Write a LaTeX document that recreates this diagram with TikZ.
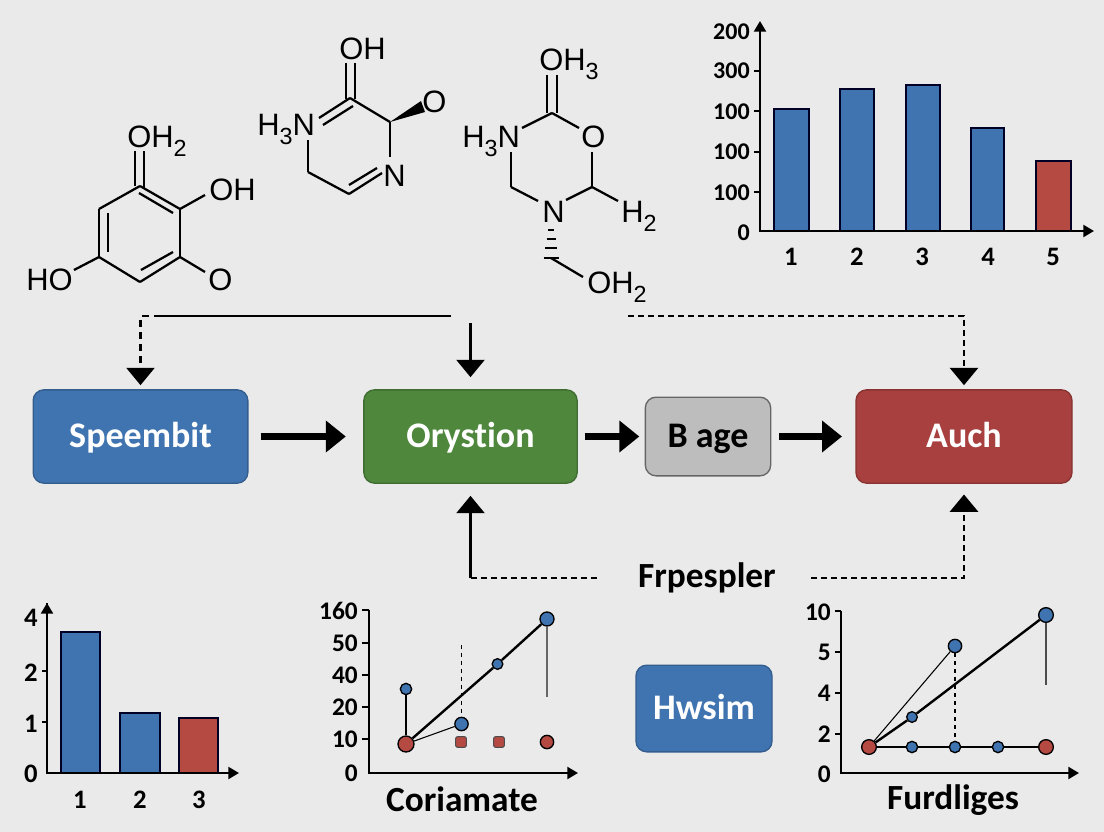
\documentclass[tikz,border=0pt]{standalone}
\usepackage{fontspec}
\setmainfont{Carlito}[Ligatures=NoCommon]
\newfontfamily\chemfont{Liberation Sans}
\usetikzlibrary{arrows.meta}
\definecolor{pagebg}{HTML}{EAEAEA}
\definecolor{boxblue}{HTML}{4074B0}
\definecolor{boxgreen}{HTML}{4F873D}
\definecolor{boxred}{HTML}{A8403F}
\definecolor{boxgray}{HTML}{BDBDBD}
\definecolor{barred}{HTML}{B54A42}
\newcommand{\chemsub}[1]{\raisebox{-0.3em}{\fontsize{17.5}{17.5}\selectfont #1}}

\begin{document}
\begin{tikzpicture}[x=0.75pt, y=-0.75pt, >={Triangle[length=8pt,width=9pt]},
  atom/.style={anchor=base west, inner sep=0pt, font=\chemfont\fontsize{23.2}{23.2}\selectfont},
  bond/.style={line width=1.7pt},
  flowbox/.style={rectangle, rounded corners=8pt, line width=1pt, font=\bfseries\fontsize{27}{31}\selectfont, text=white, text height=21pt, text depth=5pt},
  bigarrow/.style={line width=5.2pt, -{Triangle[length=15pt,width=23pt]}},
  link/.style={line width=1.8pt, -{Triangle[length=13pt,width=21pt]}},
  dashlink/.style={line width=2.2pt, dash pattern=on 4.5pt off 3pt},
  tick/.style={font=\bfseries\fontsize{18}{21}\selectfont, inner sep=0pt},
  chartname/.style={font=\bfseries\fontsize{26.5}{30}\selectfont, inner sep=0pt},
  axis/.style={line width=1.6pt},
  bar/.style={draw=black!85!blue, line width=1.5pt, fill=boxblue},
  dot/.style={circle, draw=black, line width=1pt, inner sep=0pt, fill=boxblue, minimum size=#1},
  dot/.default=9pt,
  square/.style={rectangle, rounded corners=1.5pt, draw=black!70, line width=0.8pt, inner sep=0pt, fill=barred, minimum size=#1}]

\useasboundingbox (0,0) rectangle (1104,832);
\fill[pagebg] (0,0) rectangle (1104,832);

% Molecule 1
\foreach \n/\x/\y in {a1/140/186, a2/180/209, a3/180/257, a4/140/282, a5/99/257, a6/99/209,
  a7/205/195, a8/205/272, a9/74/270, a10/135/151, a11/135/186, a12/144/151, a13/144/189,
  a14/139/193, a15/173/213, a16/108/213, a17/108/252, a18/141/270, a19/173/252}
  \coordinate (\n) at (\x,\y);
\foreach \i/\j in {a1/a2, a2/a3, a3/a4, a4/a5, a5/a6, a6/a1, a2/a7, a3/a8, a5/a9,
  a10/a11, a12/a13, a14/a15, a16/a17, a18/a19}
  \draw[bond] (\i) -- (\j);
\node[atom] (oha) at (127,147) {OH\chemsub{2}};
\node[atom] (ohb) at (209,200) {OH};
\node[atom] (hoa) at (26,290) {HO};
\node[atom] (oa) at (208,290) {O};

% Molecule 2
\foreach \n/\x/\y in {b1/350/98, b2/390/122, b3/390/157, b4/349/194, b5/308/172, b6/308/140,
  b7/346/63, b8/346/99, b9/355/63, b10/355/99, b11/319/118, b12/323/125, b13/353/106,
  b14/382/173, b15/349/185, b16/377/168}
  \coordinate (\n) at (\x,\y);
\foreach \i/\j in {b1/b2, b2/b3, b4/b5, b5/b6, b7/b8, b9/b10, b11/b1, b12/b13, b4/b14, b15/b16}
  \draw[bond] (\i) -- (\j);
\coordinate (w1) at (421,101);
\coordinate (w2) at (425,112);
\fill (b2) -- (w1) -- (w2) -- cycle;
\node[atom] (ohc) at (339,59) {OH};
\node[atom] (hna) at (257,135) {H\chemsub{3}N};
\node[atom] (ob) at (422,112) {O};
\node[atom] (na) at (383,186) {N};

% Molecule 3
\foreach \n/\x/\y in {c1/552/113, c2/579/128, c3/592/152, c4/592/187, c5/566/200, c6/618/201,
  c7/522/128, c8/511/152, c9/511/187, c10/538/201, c11/551/258, c12/583/277,
  c13/547/75, c14/547/113, c15/557/75, c16/557/113}
  \coordinate (\n) at (\x,\y);
\foreach \i/\j in {c1/c2, c3/c4, c4/c5, c4/c6, c1/c7, c8/c9, c9/c10, c11/c12, c13/c14, c15/c16}
  \draw[bond] (\i) -- (\j);
\foreach \y/\w in {230/3, 239/4.5, 248/6, 258/7.5}
  \draw[line width=1.8pt] (551-\w,\y) -- (551+\w,\y);
\node[atom] (ohd) at (539,70) {OH\chemsub{3}};
\node[atom] (hnb) at (462,147) {H\chemsub{3}N};
\node[atom] (oc) at (581,147) {O};
\node[atom] (nb) at (542,222) {N};
\node[atom] (hb) at (621,222) {H\chemsub{2}};
\node[atom] (ohe) at (587,293) {OH\chemsub{2}};

% Top bar chart
\coordinate (ttop) at (760,21);
\coordinate (tright) at (1094,231);
\foreach \a/\b/\h in {774/809/109, 840/874/89, 906/940/85, 971/1004/128}
  \draw[bar] (\a,231) rectangle (\b,\h);
\draw[bar, fill=barred] (1036,231) rectangle (1071,161);
\draw[axis, <->] (ttop) |- (tright);
\foreach \y in {71,111,152,192}
  \draw[axis] (754,\y) -- (760,\y);
\foreach \i/\y/\t in {a/32/200, b/71/300, c/112/100, d/152/100, e/193/100, f/233/0}
  \node[tick, anchor=east] (ty\i) at (750,\y) {\t};
\foreach \x/\t in {791/1, 857/2, 922/3, 988/4, 1053/5}
  \node[tick, font=\bfseries\fontsize{20}{24}\selectfont] (tx\t) at (\x,257) {\t};

% Flow boxes
\node[flowbox, fill=boxblue, draw=boxblue!80!black, minimum width=161pt, minimum height=70pt] (spe) at (140.5,436.5) {Speembit};
\node[flowbox, fill=boxgreen, draw=boxgreen!80!black, minimum width=160pt, minimum height=70pt] (ory) at (470.5,436.5) {Orystion};
\node[flowbox, fill=boxgray, draw=black!60, text=black, minimum width=94pt, minimum height=59pt] (age) at (708,436.5) {B age};
\node[flowbox, fill=boxred, draw=boxred!80!black, minimum width=162pt, minimum height=70pt] (auc) at (964,436.5) {Auch};
\node[flowbox, fill=boxblue, draw=boxblue!80!black, minimum width=102pt, minimum height=65pt] (hws) at (704,708.5) {Hwsim};
\node[chartname] (frp) at (707,578) {Frpespler};

% Flow arrows
\draw[bigarrow, shorten <=9pt, shorten >=13pt] (spe) -- (ory);
\draw[bigarrow, shorten <=5pt, shorten >=4pt] (ory) -- (age);
\draw[bigarrow, shorten <=6pt, shorten >=10pt] (age) -- (auc);

% Feedback links
\coordinate (la) at (160.5,316);
\coordinate (lb) at (451,316);
\coordinate (lc) at (470.5,323);
\coordinate (ld) at (628,316);
\coordinate (le) at (470.5,578);
\coordinate (lf) at (597,578);
\coordinate (lg) at (811,578);
\draw[line width=1.8pt] (la) -- (lb);
\draw[link, dash pattern=on 5pt off 4pt, shorten >=3pt] (la) -| (spe);
\draw[link, shorten >=9pt] (lc) -- (ory);
\draw[link, dashlink, shorten >=3pt] (ld) -| (auc);
\draw[dashlink] (le) -- (lf);
\draw[link, shorten >=9pt] (le) -- (ory);
\draw[link, dashlink, shorten >=8pt] (lg) -| (auc);

% Bottom left bar chart
\coordinate (ltop) at (47,603);
\coordinate (lright) at (239,773);
\foreach \a/\b/\h in {61/100/632, 120/160/713}
  \draw[bar] (\a,773) rectangle (\b,\h);
\draw[bar, fill=barred] (179,773) rectangle (218,718);
\draw[axis, ->] (ltop) -- (47,773) -- (lright);
\draw[axis, <-] (ltop) -- (47,620);
\foreach \y in {671,722}
  \draw[axis] (42,\y) -- (47,\y);
\foreach \y/\t in {618/4, 673/2, 724/1, 774/0}
  \node[tick, font=\bfseries\fontsize{20}{24}\selectfont] (ly\t) at (31,\y) {\t};
\foreach \x/\t in {80/1, 140/2, 199/3}
  \node[tick, font=\bfseries\fontsize{20}{24}\selectfont] (lx\t) at (\x,800) {\t};

% Middle line chart
\coordinate (mtop) at (369,610);
\coordinate (mright) at (578,773);
\draw[axis, ->] (mtop) |- (mright);
\foreach \y in {610,643,675,707,739}
  \draw[axis] (362,\y) -- (369,\y);
\foreach \i/\y/\t in {a/611/160, b/643/50, c/675/40, d/707/20, e/739/10, f/773/0}
  \node[tick, anchor=east, font=\bfseries\fontsize{19}{23}\selectfont] (my\i) at (358,\y) {\t};
\node[chartname] (mname) at (462,799) {Coriamate};
\node[dot=12pt, fill=barred] (mp0) at (406,744) {};
\node[dot=10.5pt] (mp1) at (547,619) {};
\node[dot=8pt] (mp2) at (497.5,664) {};
\node[dot=8.5pt] (mp3) at (406,689) {};
\node[dot=10pt] (mp4) at (461.5,724) {};
\node[square=8pt] (mq1) at (461,742) {};
\node[square=8pt] (mq2) at (499,742) {};
\node[dot=10pt, fill=barred] (mq3) at (547,742) {};
\coordinate (mc1) at (461.5,645);
\coordinate (mc2) at (547,697);
\draw[line width=1.8pt] (mp0) -- (mp2);
\draw[line width=1.8pt] (mp2) -- (mp1);
\draw[line width=0.8pt] (mp3) -- (mp0);
\draw[line width=0.8pt] (mp0) -- (mp4);
\draw[line width=0.8pt, dashed] (mc1) -- (mp4);
\draw[line width=0.8pt, black!60] (mp1) -- (mc2);

% Bottom right line chart
\coordinate (rtop) at (841,611);
\coordinate (rright) at (1079,773);
\draw[axis, ->] (rtop) |- (rright);
\foreach \y in {611,652,693,734}
  \draw[axis] (835,\y) -- (841,\y);
\foreach \i/\y/\t in {a/612/10, b/652/5, c/693/4, d/734/2, e/774/0}
  \node[tick, anchor=east, font=\bfseries\fontsize{19}{23}\selectfont] (ry\i) at (831,\y) {\t};
\node[chartname] (rname) at (953,800) {Furdliges};
\node[dot=11pt, fill=barred] (rp0) at (869,747) {};
\node[dot=8pt] (rp1) at (912,717) {};
\node[dot=10pt] (rp2) at (955,646) {};
\node[dot=11pt] (rp3) at (1046,615) {};
\node[dot=8.5pt] (rq1) at (912,747) {};
\node[dot=8.5pt] (rq2) at (955,747) {};
\node[dot=8.5pt] (rq3) at (998,747) {};
\node[dot=11pt, fill=barred] (rq4) at (1046,747) {};
\coordinate (rc1) at (1046,685);
\draw[line width=1.8pt] (rp0) -- (rp1);
\draw[line width=1.8pt] (rp1) -- (rp3);
\draw[line width=0.8pt] (rp0) -- (rp2);
\draw[line width=1pt, dashed] (rp2) -- (rq2);
\draw[line width=0.8pt, black!70] (rp3) -- (rc1);
\foreach \i/\j in {rp0/rq1, rq1/rq2, rq2/rq3, rq3/rq4}
  \draw[line width=1pt] (\i) -- (\j);

\end{tikzpicture}
\end{document}
